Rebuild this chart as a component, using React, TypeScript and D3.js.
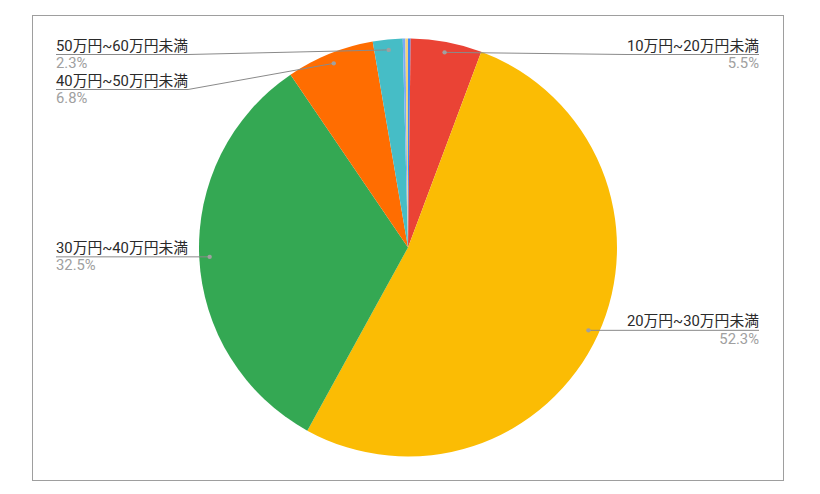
import React, { useEffect, useRef } from 'react';
import * as d3 from 'd3';

// income brackets, clockwise from 12 o'clock
const categories = [
  '10万円未満',
  '10万円~20万円未満',
  '20万円~30万円未満',
  '30万円~40万円未満',
  '40万円~50万円未満',
  '50万円~60万円未満',
  '60万円~70万円未満',
  '70万円以上'
];
const shares = [0.2, 5.5, 52.3, 32.5, 6.8, 2.3, 0.2, 0.2];
const sliceColors = ['#4285F4', '#EA4335', '#FBBC04', '#34A853', '#FF6D01', '#46BDC6', '#7BAAF7', '#F3D27A'];

interface Slice {
  name: string;
  share: number;
  color: string;
}

const App: React.FC = () => {
  const svgRef = useRef<SVGSVGElement>(null);

  useEffect(() => {
    if (!svgRef.current) return;
    const svg = d3.select(svgRef.current);
    svg.selectAll('*').remove();

    const width = 820;
    const height = 494;
    const cx = 408;
    const cy = 247.5;
    const radius = 209;
    const font = "Roboto, 'Noto Sans CJK JP', sans-serif";
    const fontSize = 14.8;

    const data: Slice[] = categories.map((name, i) => ({
      name,
      share: shares[i],
      color: sliceColors[i]
    }));

    svg.attr('width', width).attr('height', height);

    svg.append('rect')
      .attr('width', width)
      .attr('height', height)
      .attr('fill', '#fff');

    // chart frame
    svg.append('rect')
      .attr('x', 32.5)
      .attr('y', 15.5)
      .attr('width', 751)
      .attr('height', 465)
      .attr('fill', 'none')
      .attr('stroke', '#9e9e9e')
      .attr('stroke-width', 1);

    const pie = d3.pie<Slice>()
      .sort(null)
      .value(d => d.share);
    const arcs = pie(data);

    const arc = d3.arc<d3.PieArcDatum<Slice>>()
      .innerRadius(0)
      .outerRadius(radius);

    const g = svg.append('g').attr('transform', `translate(${cx},${cy})`);

    g.selectAll('path')
      .data(arcs)
      .enter()
      .append('path')
      .attr('d', arc)
      .attr('fill', d => d.data.color);

    // labels with leader lines
    const dotR = radius * 0.95;
    const labelWidth = 132;
    const leftX = 56;
    const rightX = 759;
    const minY = 54.5;
    const step = 35;

    const labelled = arcs
      .filter(a => a.data.share >= 1)
      .map(a => {
        const mid = (a.startAngle + a.endAngle) / 2;
        return {
          a,
          dx: cx + dotR * Math.sin(mid),
          dy: cy - dotR * Math.cos(mid),
          left: Math.sin(mid) < 0,
          uy: 0
        };
      });

    [true, false].forEach(side => {
      const group = labelled.filter(l => l.left === side).sort((p, q) => p.dy - q.dy);
      let prev = -Infinity;
      group.forEach(l => {
        l.uy = Math.max(l.dy, minY, prev + step);
        prev = l.uy;
      });
    });

    const line = d3.line<[number, number]>();

    labelled.forEach(l => {
      const outer = l.left ? leftX : rightX;
      const elbow = l.left
        ? Math.min(leftX + labelWidth, l.dx)
        : Math.max(rightX - labelWidth, l.dx);
      const pts: [number, number][] = [[outer, l.uy], [elbow, l.uy], [l.dx, l.dy]];

      svg.append('path')
        .attr('d', line(pts))
        .attr('fill', 'none')
        .attr('stroke', '#8a8a8a')
        .attr('stroke-width', 1);

      svg.append('circle')
        .attr('cx', l.dx)
        .attr('cy', l.dy)
        .attr('r', 2.2)
        .attr('fill', '#a0a0a0');

      const anchor = l.left ? 'start' : 'end';

      svg.append('text')
        .attr('x', outer)
        .attr('y', l.uy - 4)
        .attr('text-anchor', anchor)
        .attr('font-family', font)
        .attr('font-size', fontSize)
        .attr('fill', '#2a2a2a')
        .text(l.a.data.name);

      svg.append('text')
        .attr('x', outer)
        .attr('y', l.uy + 13.5)
        .attr('text-anchor', anchor)
        .attr('font-family', font)
        .attr('font-size', fontSize)
        .attr('fill', '#a0a0a0')
        .text(`${l.a.data.share.toFixed(1)}%`);
    });
  }, []);

  return (
    <svg
      ref={svgRef}
      style={{ position: 'absolute', left: 0, top: 0, display: 'block' }}
    ></svg>
  );
};

export default App;
